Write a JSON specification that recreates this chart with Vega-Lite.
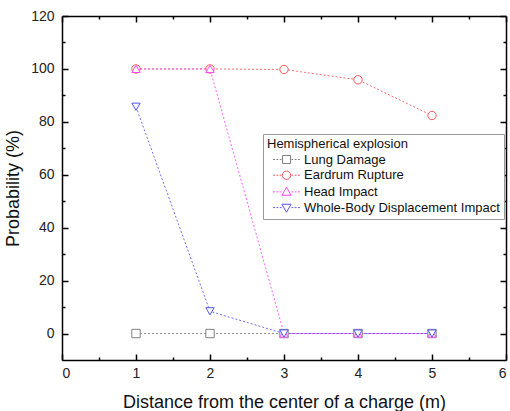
{
  "$schema": "https://vega.github.io/schema/vega-lite/v6.json",
  "width": 444,
  "height": 344,
  "autosize": {"type": "none"},
  "padding": {"left": 62, "top": 16, "right": 4, "bottom": 51},
  "background": "white",
  "config": {
    "view": {"stroke": null},
    "axis": {
      "grid": false,
      "domainColor": "#000000",
      "domainWidth": 1.5,
      "tickColor": "#000000",
      "tickWidth": 1.5,
      "labelFont": "Liberation Sans",
      "labelFontSize": 14,
      "labelColor": "#222222",
      "titleFont": "Liberation Sans",
      "titleFontSize": 18,
      "titleFontWeight": "normal",
      "titleColor": "#111111"
    },
    "legend": {
      "orient": "none",
      "legendX": 201,
      "legendY": 118,
      "padding": 4,
      "strokeColor": "#999999",
      "fillColor": "#ffffff",
      "labelFont": "Liberation Sans",
      "titleFont": "Liberation Sans",
      "titleFontSize": 13,
      "titleFontWeight": "normal",
      "titleColor": "#111111",
      "titlePadding": 2,
      "labelFontSize": 13,
      "labelColor": "#111111",
      "labelLimit": 400,
      "rowPadding": 1.7,
      "symbolSize": 70,
      "symbolStrokeWidth": 1,
      "symbolFillColor": "#ffffff",
      "symbolOffset": 13,
      "labelOffset": 11
    }
  },
  "data": {
    "values": [
      {"series": "Lung Damage", "x": 1, "y": 0},
      {"series": "Lung Damage", "x": 2, "y": 0},
      {"series": "Lung Damage", "x": 3, "y": 0},
      {"series": "Lung Damage", "x": 4, "y": 0},
      {"series": "Lung Damage", "x": 5, "y": 0},
      {"series": "Eardrum Rupture", "x": 1, "y": 100},
      {"series": "Eardrum Rupture", "x": 2, "y": 100},
      {"series": "Eardrum Rupture", "x": 3, "y": 99.8},
      {"series": "Eardrum Rupture", "x": 4, "y": 95.9},
      {"series": "Eardrum Rupture", "x": 5, "y": 82.4},
      {"series": "Head Impact", "x": 1, "y": 100},
      {"series": "Head Impact", "x": 2, "y": 100},
      {"series": "Head Impact", "x": 3, "y": 0},
      {"series": "Head Impact", "x": 4, "y": 0},
      {"series": "Head Impact", "x": 5, "y": 0},
      {"series": "Whole-Body Displacement Impact", "x": 1, "y": 85.7},
      {"series": "Whole-Body Displacement Impact", "x": 2, "y": 8.4},
      {"series": "Whole-Body Displacement Impact", "x": 3, "y": 0},
      {"series": "Whole-Body Displacement Impact", "x": 4, "y": 0},
      {"series": "Whole-Body Displacement Impact", "x": 5, "y": 0}
    ]
  },
  "resolve": {
    "axis": {"x": "independent", "y": "independent"},
    "scale": {"stroke": "independent", "shape": "independent"},
    "legend": {"stroke": "independent", "shape": "independent"}
  },
  "layer": [
    {
      "mark": {"type": "line", "strokeDash": [2, 2], "strokeWidth": 1, "opacity": 0.85},
      "encoding": {
        "x": {"field": "x", "type": "quantitative", "scale": {"domain": [0, 6], "nice": false, "zero": false},
          "axis": {"orient": "bottom", "title": "Distance from the center of a charge (m)", "values": [0, 1, 2, 3, 4, 5, 6], "tickSize": -6, "labelPadding": 12, "titlePadding": 13, "format": "d"}},
        "y": {"field": "y", "type": "quantitative", "scale": {"domain": [-10, 120], "nice": false, "zero": false},
          "axis": {"orient": "left", "title": "Probability (%)", "values": [0, 20, 40, 60, 80, 100, 120], "tickSize": -6, "labelPadding": 14, "titlePadding": 8}},
        "detail": {"field": "series"},
        "stroke": {"field": "series", "type": "nominal",
          "scale": {"domain": ["Lung Damage", "Eardrum Rupture", "Head Impact", "Whole-Body Displacement Impact"],
                    "range": ["#808080", "#FF5555", "#FF44FF", "#5555FF"]},
          "legend": null}
      }
    },
    {
      "mark": {"type": "point", "fill": "#ffffff", "fillOpacity": 1, "strokeWidth": 1, "size": 70, "opacity": 1},
      "encoding": {
        "x": {"field": "x", "type": "quantitative",
          "axis": {"orient": "top", "title": null, "labels": false, "values": [0, 1, 2, 3, 4, 5, 6], "tickSize": -6}},
        "y": {"field": "y", "type": "quantitative",
          "axis": {"orient": "right", "title": null, "labels": false, "values": [0, 20, 40, 60, 80, 100, 120], "tickSize": -6}},
        "stroke": {"field": "series", "type": "nominal",
          "scale": {"domain": ["Lung Damage", "Eardrum Rupture", "Head Impact", "Whole-Body Displacement Impact"],
                    "range": ["#808080", "#FF5555", "#FF44FF", "#5555FF"]},
          "legend": null},
        "shape": {"field": "series", "type": "nominal",
          "scale": {"domain": ["Lung Damage", "Eardrum Rupture", "Head Impact", "Whole-Body Displacement Impact"],
                    "range": ["square", "circle", "triangle-up", "triangle-down"]},
          "legend": null}
      }
    },
    {
      "transform": [{"filter": "datum.x > 100"}],
      "mark": {"type": "point", "fill": "#ffffff", "fillOpacity": 1, "strokeWidth": 1, "size": 70, "opacity": 1},
      "encoding": {
        "x": {"field": "x", "type": "quantitative",
          "axis": {"orient": "bottom", "title": null, "labels": false, "domain": false, "values": [0.5, 1.5, 2.5, 3.5, 4.5, 5.5], "tickSize": -3}},
        "y": {"field": "y", "type": "quantitative",
          "axis": {"orient": "left", "title": null, "labels": false, "domain": false, "values": [10, 30, 50, 70, 90, 110], "tickSize": -3}},
        "stroke": {"field": "series", "type": "nominal",
          "scale": {"domain": ["Lung Damage", "Eardrum Rupture", "Head Impact", "Whole-Body Displacement Impact"],
                    "range": ["#808080", "#FF5555", "#FF44FF", "#5555FF"]},
          "legend": {"title": "Hemispherical explosion"}},
        "shape": {"field": "series", "type": "nominal",
          "scale": {"domain": ["Lung Damage", "Eardrum Rupture", "Head Impact", "Whole-Body Displacement Impact"],
                    "range": [
                      "M-3.2,0H-2.75M-2.4,0H-1.95M-1.6,0H-1.2M-0.95,-0.95H0.95V0.95H-0.95ZM1.2,0H1.6M1.95,0H2.4M2.75,0H3.2",
                      "M-3.2,0H-2.75M-2.4,0H-1.95M-1.6,0H-1.2M1,0A1,1,0,1,1,-1,0A1,1,0,1,1,1,0ZM1.2,0H1.6M1.95,0H2.4M2.75,0H3.2",
                      "M-3.2,0H-2.75M-2.4,0H-1.95M-1.6,0H-1.2M0,-1.1L1.1,0.8L-1.1,0.8ZM1.2,0H1.6M1.95,0H2.4M2.75,0H3.2",
                      "M-3.2,0H-2.75M-2.4,0H-1.95M-1.6,0H-1.2M0,1.1L1.1,-0.8L-1.1,-0.8ZM1.2,0H1.6M1.95,0H2.4M2.75,0H3.2"
                    ]},
          "legend": {"title": "Hemispherical explosion"}}
      }
    },
    {
      "mark": {"type": "point", "opacity": 0},
      "encoding": {
        "x": {"field": "x", "type": "quantitative",
          "axis": {"orient": "top", "title": null, "labels": false, "domain": false, "values": [0.5, 1.5, 2.5, 3.5, 4.5, 5.5], "tickSize": -3}},
        "y": {"field": "y", "type": "quantitative",
          "axis": {"orient": "right", "title": null, "labels": false, "domain": false, "values": [10, 30, 50, 70, 90, 110], "tickSize": -3}}
      }
    }
  ]
}
